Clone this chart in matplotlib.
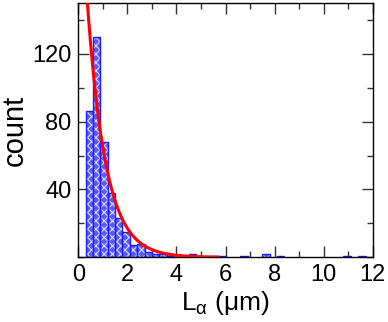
import numpy as np
import matplotlib
matplotlib.use('Agg')
import matplotlib.pyplot as plt
from matplotlib.ticker import MultipleLocator

plt.rcParams['font.family'] = ['Liberation Sans', 'DejaVu Sans']
plt.rcParams['hatch.linewidth'] = 0.8

# histogram: bin left edges (um) and counts, bin width 0.3 um
bin_left = [0.3, 0.6, 0.9, 1.2, 1.5, 1.8, 2.1, 2.4, 2.7, 3.0, 3.3, 3.6,
            4.5, 5.4, 5.7, 6.6, 7.5, 8.1, 10.8, 11.4]
counts = [86, 130, 68, 38, 23, 15, 7, 8, 3, 2, 2, 1,
          2, 1, 1, 1, 2, 1, 1, 1]
bin_width = 0.3

# exponential fit  A * exp(-L / tau)
fit_A = 246.0
fit_tau = 0.75
fit_range = (0.0, 5.7)

fig = plt.figure(figsize=(3.88, 3.22), dpi=100)
ax = fig.add_axes([0.2018, 0.201, 0.7592, 0.7897])

# checkered fill: blue face with light hatch, then blue outline on top
ax.bar(bin_left, counts, width=bin_width, align='edge',
       facecolor='#5a5aff', edgecolor='#dcdcff', linewidth=0,
       hatch='xxxx', zorder=2)
ax.bar(bin_left, counts, width=bin_width, align='edge',
       fill=False, edgecolor='#1a1aff', linewidth=1.0, zorder=2)

xf = np.linspace(fit_range[0], fit_range[1], 300)
ax.plot(xf, fit_A * np.exp(-xf / fit_tau), color='#ff0000', lw=2.2, zorder=3)

ax.set_xlim(0, 12)
ax.set_ylim(0, 150)
ax.xaxis.set_major_locator(MultipleLocator(2))
ax.xaxis.set_minor_locator(MultipleLocator(1))
ax.set_yticks([40, 80, 120])
ax.yaxis.set_minor_locator(MultipleLocator(20))
ax.tick_params(which='both', direction='in', top=True, right=True,
               labelsize=17, color='#333333')
ax.tick_params(which='major', length=8, width=1, pad=5)
ax.tick_params(which='minor', length=4, width=1)
for s in ax.spines.values():
    s.set_linewidth(1.0)

ax.set_xlabel(r'L$_\mathregular{\alpha}$ ($\mathregular{\mu}$m)', fontsize=19, labelpad=2)
ax.set_ylabel('count', fontsize=21, labelpad=2)

fig.savefig('out.png', dpi=100)
